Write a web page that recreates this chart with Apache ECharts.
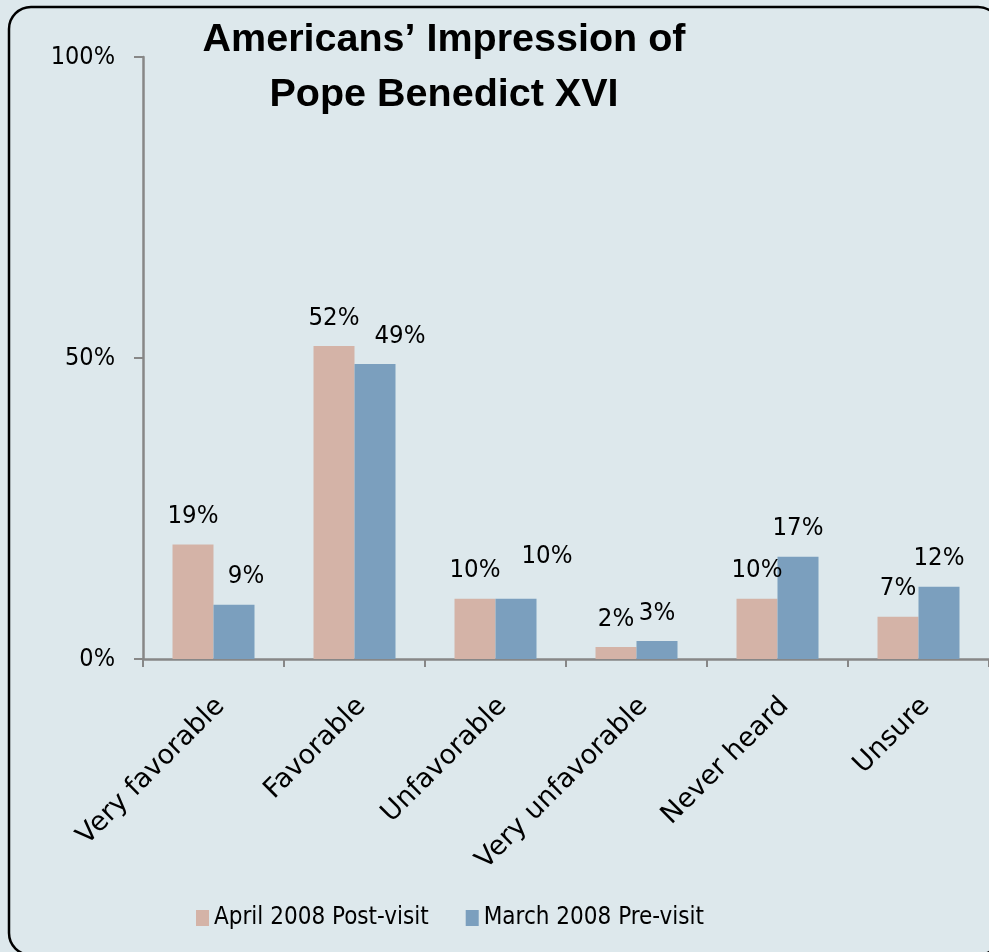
<!DOCTYPE html>
<html>
<head>
<meta charset="utf-8">
<script src="https://cdn.jsdelivr.net/npm/echarts@6/dist/echarts.min.js"></script>
<style>
html,body{margin:0;padding:0;background:#dde8ec;}
#chart{width:989px;height:952px;}
</style>
</head>
<body>
<div id="chart"></div>
<script>
const categories = ['Very favorable', 'Favorable', 'Unfavorable', 'Very unfavorable', 'Never heard', 'Unsure'];
const seriesNames = ['April 2008 Post-visit', 'March 2008 Pre-visit'];
const aprilPost = [19, 52, 10, 2, 10, 7];
const marchPre = [9, 49, 10, 3, 17, 12];
const yTicks = [0, 50, 100];
const titleLines = ['Americans\u2019 Impression of', 'Pope Benedict XVI'];

// label nudges (styling only)
const aprilLabelShift = [[0,0],[0,0],[0,0],[0,0],[0,0],[0,0]];
const marchLabelShift = [[12,0],[25,0],[31,-14],[0,0],[0,0],[0,0]];

const NARROW = "'DejaVu Sans Condensed','Liberation Sans',sans-serif";
const CAT = "'DejaVu Sans','Liberation Sans',sans-serif";

function withShift(vals, shifts){
  return vals.map((v,i)=>({value:v, label:{offset:shifts[i]}}));
}

const chart = echarts.init(document.getElementById('chart'));
chart.setOption({
  backgroundColor: '#dde8ec',
  animation: false,
  graphic: [
    {type:'rect', shape:{x:9, y:7, width:991, height:948, r:22}, style:{fill:'none', stroke:'#000', lineWidth:2.5}, z:100},
    {type:'text', x:444, y:13, style:{text:titleLines.join('\n'), align:'center', textAlign:'center', font:"bold 39.5px 'Liberation Sans',sans-serif", lineHeight:55, fill:'#000'}}
  ],
  legend: {
    left: 196, top: 906, padding: 0,
    itemWidth: 13, itemHeight: 16, itemGap: 37,
    icon: 'rect',
    data: seriesNames,
    textStyle: {fontFamily: NARROW, fontSize: 24, color: '#000', padding:[0,0,0,0]}
  },
  grid: {left:143, right:-9, top:57, bottom:293, containLabel:false},
  xAxis: {
    type: 'category',
    data: categories,
    axisLine: {lineStyle:{color:'#878787', width:2.5}},
    axisTick: {show:true, length:8, lineStyle:{color:'#878787', width:2}},
    axisLabel: {rotate:45, interval:0, margin:50, padding:[0,-10,0,0], fontFamily:CAT, fontSize:27, color:'#000'}
  },
  yAxis: {
    type: 'value', min: yTicks[0], max: yTicks[yTicks.length-1], interval: yTicks[1]-yTicks[0],
    axisLine: {show:true, lineStyle:{color:'#878787', width:2.5}},
    axisTick: {show:true, length:9, lineStyle:{color:'#878787', width:2}},
    splitLine: {show:false},
    axisLabel: {formatter:'{value}%', margin:28, fontFamily:NARROW, fontSize:25, color:'#000'}
  },
  series: [
    {name:seriesNames[0], type:'bar', data:withShift(aprilPost, aprilLabelShift), barWidth:41, barGap:'0%',
     itemStyle:{color:'#d4b3a7'},
     label:{show:true, position:'top', distance:15, formatter:'{c}%', fontFamily:NARROW, fontSize:25.5, color:'#000'}},
    {name:seriesNames[1], type:'bar', data:withShift(marchPre, marchLabelShift), barWidth:41, barGap:'0%',
     itemStyle:{color:'#7b9fbe'},
     label:{show:true, position:'top', distance:15, formatter:'{c}%', fontFamily:NARROW, fontSize:25.5, color:'#000'}}
  ]
});
</script>
</body>
</html>
